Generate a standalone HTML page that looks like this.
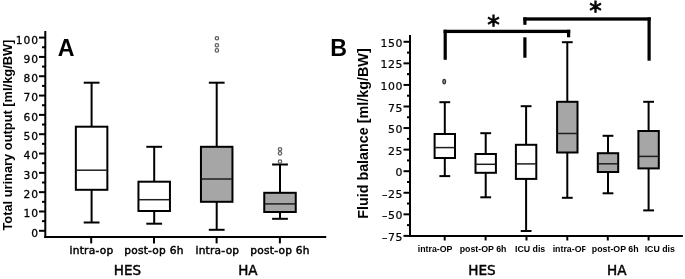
<!DOCTYPE html>
<html><head><meta charset="utf-8"><title>Figure</title>
<style>
html,body{margin:0;padding:0;background:#fff;}
body{width:685px;height:279px;overflow:hidden;}
svg{display:block;}
text{fill:#000;}
.ta{font-family:"DejaVu Sans",sans-serif;font-size:10.7px;letter-spacing:0.9px;text-anchor:end;stroke:#000;stroke-width:0.28px;}
.tb{font-family:"DejaVu Sans",sans-serif;font-size:10.9px;letter-spacing:0.5px;text-anchor:end;stroke:#000;stroke-width:0.2px;}
.xa{font-family:"DejaVu Sans",sans-serif;font-size:10.6px;letter-spacing:0.25px;text-anchor:middle;stroke:#000;stroke-width:0.45px;}
.xb{font-family:"Liberation Sans",sans-serif;font-weight:bold;font-size:8.8px;text-anchor:middle;}
.ga{font-family:"DejaVu Sans",sans-serif;font-size:13.5px;text-anchor:middle;stroke:#000;stroke-width:0.45px;}
.gb{font-family:"DejaVu Sans",sans-serif;font-size:13.6px;text-anchor:middle;stroke:#000;stroke-width:0.45px;}
.pl{font-family:"Liberation Sans",sans-serif;font-weight:bold;font-size:23.2px;}
.yla{font-family:"Liberation Sans",sans-serif;font-weight:bold;font-size:12.85px;text-anchor:middle;}
.ylb{font-family:"Liberation Sans",sans-serif;font-weight:bold;font-size:14.35px;text-anchor:middle;}
.ast{font-family:"DejaVu Sans",sans-serif;font-size:25px;text-anchor:middle;stroke:#000;stroke-width:0.8px;}
</style></head>
<body><svg width="685" height="279" viewBox="0 0 685 279">
<rect width="685" height="279" fill="#fff"/>
<line x1="45.30" y1="31.00" x2="45.30" y2="238.10" stroke="#000" stroke-width="2"/>
<line x1="44.30" y1="237.10" x2="326.20" y2="237.10" stroke="#000" stroke-width="2"/>
<line x1="39.00" y1="230.80" x2="45.30" y2="230.80" stroke="#000" stroke-width="2"/>
<text x="38.9" y="236.70" class="ta">0</text>
<line x1="39.00" y1="211.48" x2="45.30" y2="211.48" stroke="#000" stroke-width="2"/>
<text x="38.9" y="217.38" class="ta">10</text>
<line x1="39.00" y1="192.16" x2="45.30" y2="192.16" stroke="#000" stroke-width="2"/>
<text x="38.9" y="198.06" class="ta">20</text>
<line x1="39.00" y1="172.84" x2="45.30" y2="172.84" stroke="#000" stroke-width="2"/>
<text x="38.9" y="178.74" class="ta">30</text>
<line x1="39.00" y1="153.52" x2="45.30" y2="153.52" stroke="#000" stroke-width="2"/>
<text x="38.9" y="159.42" class="ta">40</text>
<line x1="39.00" y1="134.20" x2="45.30" y2="134.20" stroke="#000" stroke-width="2"/>
<text x="38.9" y="140.10" class="ta">50</text>
<line x1="39.00" y1="114.88" x2="45.30" y2="114.88" stroke="#000" stroke-width="2"/>
<text x="38.9" y="120.78" class="ta">60</text>
<line x1="39.00" y1="95.56" x2="45.30" y2="95.56" stroke="#000" stroke-width="2"/>
<text x="38.9" y="101.46" class="ta">70</text>
<line x1="39.00" y1="76.24" x2="45.30" y2="76.24" stroke="#000" stroke-width="2"/>
<text x="38.9" y="82.14" class="ta">80</text>
<line x1="39.00" y1="56.92" x2="45.30" y2="56.92" stroke="#000" stroke-width="2"/>
<text x="38.9" y="62.82" class="ta">90</text>
<line x1="39.00" y1="37.60" x2="45.30" y2="37.60" stroke="#000" stroke-width="2"/>
<text x="38.9" y="43.50" class="ta">100</text>
<line x1="42.00" y1="221.14" x2="45.30" y2="221.14" stroke="#000" stroke-width="2"/>
<line x1="42.00" y1="201.82" x2="45.30" y2="201.82" stroke="#000" stroke-width="2"/>
<line x1="42.00" y1="182.50" x2="45.30" y2="182.50" stroke="#000" stroke-width="2"/>
<line x1="42.00" y1="163.18" x2="45.30" y2="163.18" stroke="#000" stroke-width="2"/>
<line x1="42.00" y1="143.86" x2="45.30" y2="143.86" stroke="#000" stroke-width="2"/>
<line x1="42.00" y1="124.54" x2="45.30" y2="124.54" stroke="#000" stroke-width="2"/>
<line x1="42.00" y1="105.22" x2="45.30" y2="105.22" stroke="#000" stroke-width="2"/>
<line x1="42.00" y1="85.90" x2="45.30" y2="85.90" stroke="#000" stroke-width="2"/>
<line x1="42.00" y1="66.58" x2="45.30" y2="66.58" stroke="#000" stroke-width="2"/>
<line x1="42.00" y1="47.26" x2="45.30" y2="47.26" stroke="#000" stroke-width="2"/>
<line x1="91.20" y1="237.10" x2="91.20" y2="243.40" stroke="#000" stroke-width="2"/>
<line x1="154.00" y1="237.10" x2="154.00" y2="243.40" stroke="#000" stroke-width="2"/>
<line x1="216.60" y1="237.10" x2="216.60" y2="243.40" stroke="#000" stroke-width="2"/>
<line x1="279.90" y1="237.10" x2="279.90" y2="243.40" stroke="#000" stroke-width="2"/>
<line x1="91.60" y1="82.70" x2="91.60" y2="126.70" stroke="#000" stroke-width="2.0"/>
<line x1="91.60" y1="189.80" x2="91.60" y2="222.50" stroke="#000" stroke-width="2.0"/>
<line x1="83.70" y1="82.70" x2="99.50" y2="82.70" stroke="#000" stroke-width="2.0"/>
<line x1="83.70" y1="222.50" x2="99.50" y2="222.50" stroke="#000" stroke-width="2.0"/>
<rect x="75.85" y="126.70" width="31.50" height="63.10" fill="#fff" stroke="#000" stroke-width="2.0"/>
<line x1="76.35" y1="170.20" x2="106.85" y2="170.20" stroke="#1e1e1e" stroke-width="1.5"/>
<line x1="154.20" y1="146.80" x2="154.20" y2="181.70" stroke="#000" stroke-width="2.0"/>
<line x1="154.20" y1="211.00" x2="154.20" y2="223.70" stroke="#000" stroke-width="2.0"/>
<line x1="146.30" y1="146.80" x2="162.10" y2="146.80" stroke="#000" stroke-width="2.0"/>
<line x1="146.30" y1="223.70" x2="162.10" y2="223.70" stroke="#000" stroke-width="2.0"/>
<rect x="138.45" y="181.70" width="31.50" height="29.30" fill="#fff" stroke="#000" stroke-width="2.0"/>
<line x1="138.95" y1="199.70" x2="169.45" y2="199.70" stroke="#1e1e1e" stroke-width="1.5"/>
<line x1="216.70" y1="82.70" x2="216.70" y2="146.80" stroke="#000" stroke-width="2.0"/>
<line x1="216.70" y1="201.80" x2="216.70" y2="229.80" stroke="#000" stroke-width="2.0"/>
<line x1="208.80" y1="82.70" x2="224.60" y2="82.70" stroke="#000" stroke-width="2.0"/>
<line x1="208.80" y1="229.80" x2="224.60" y2="229.80" stroke="#000" stroke-width="2.0"/>
<rect x="200.95" y="146.80" width="31.50" height="55.00" fill="#a6a6a6" stroke="#000" stroke-width="2.0"/>
<line x1="201.45" y1="179.00" x2="231.95" y2="179.00" stroke="#1e1e1e" stroke-width="1.5"/>
<line x1="280.00" y1="164.50" x2="280.00" y2="192.80" stroke="#000" stroke-width="2.0"/>
<line x1="280.00" y1="212.00" x2="280.00" y2="218.80" stroke="#000" stroke-width="2.0"/>
<line x1="272.10" y1="164.50" x2="287.90" y2="164.50" stroke="#000" stroke-width="2.0"/>
<line x1="272.10" y1="218.80" x2="287.90" y2="218.80" stroke="#000" stroke-width="2.0"/>
<rect x="264.25" y="192.80" width="31.50" height="19.20" fill="#a6a6a6" stroke="#000" stroke-width="2.0"/>
<line x1="264.75" y1="203.90" x2="295.25" y2="203.90" stroke="#1e1e1e" stroke-width="1.5"/>
<circle cx="216.90" cy="38.20" r="1.7" fill="none" stroke="#606060" stroke-width="1.25"/>
<circle cx="216.90" cy="45.20" r="1.7" fill="none" stroke="#606060" stroke-width="1.25"/>
<circle cx="216.90" cy="50.40" r="1.7" fill="none" stroke="#606060" stroke-width="1.25"/>
<circle cx="280.00" cy="149.20" r="1.7" fill="none" stroke="#606060" stroke-width="1.25"/>
<circle cx="280.00" cy="153.30" r="1.7" fill="none" stroke="#606060" stroke-width="1.25"/>
<circle cx="280.00" cy="161.60" r="1.7" fill="none" stroke="#606060" stroke-width="1.25"/>
<text x="91.45" y="254.3" class="xa">intra-op</text>
<text x="153.95" y="254.3" class="xa">post-op 6h</text>
<text x="217.4" y="254.3" class="xa">intra-op</text>
<text x="280" y="254.3" class="xa">post-op 6h</text>
<text x="127.5" y="274.5" class="ga">HES</text>
<text x="247.9" y="274.5" class="ga">HA</text>
<text x="57.8" y="55.7" class="pl">A</text>
<text transform="translate(11.8,135.1) rotate(-90)" class="yla">Total urinary output [ml/kg/BW]</text>
<line x1="410.00" y1="35.00" x2="410.00" y2="236.90" stroke="#000" stroke-width="2"/>
<line x1="409.00" y1="235.90" x2="682.90" y2="235.90" stroke="#000" stroke-width="2"/>
<line x1="403.50" y1="235.90" x2="410.00" y2="235.90" stroke="#000" stroke-width="2"/>
<text x="402.9" y="240.90" class="tb">–75</text>
<line x1="403.50" y1="214.33" x2="410.00" y2="214.33" stroke="#000" stroke-width="2"/>
<text x="402.9" y="219.33" class="tb">–50</text>
<line x1="403.50" y1="192.77" x2="410.00" y2="192.77" stroke="#000" stroke-width="2"/>
<text x="402.9" y="197.77" class="tb">–25</text>
<line x1="403.50" y1="171.20" x2="410.00" y2="171.20" stroke="#000" stroke-width="2"/>
<text x="402.9" y="176.20" class="tb">0</text>
<line x1="403.50" y1="149.63" x2="410.00" y2="149.63" stroke="#000" stroke-width="2"/>
<text x="402.9" y="154.63" class="tb">25</text>
<line x1="403.50" y1="128.06" x2="410.00" y2="128.06" stroke="#000" stroke-width="2"/>
<text x="402.9" y="133.06" class="tb">50</text>
<line x1="403.50" y1="106.50" x2="410.00" y2="106.50" stroke="#000" stroke-width="2"/>
<text x="402.9" y="111.50" class="tb">75</text>
<line x1="403.50" y1="84.93" x2="410.00" y2="84.93" stroke="#000" stroke-width="2"/>
<text x="402.9" y="89.93" class="tb">100</text>
<line x1="403.50" y1="63.36" x2="410.00" y2="63.36" stroke="#000" stroke-width="2"/>
<text x="402.9" y="68.36" class="tb">125</text>
<line x1="403.50" y1="41.79" x2="410.00" y2="41.79" stroke="#000" stroke-width="2"/>
<text x="402.9" y="46.79" class="tb">150</text>
<line x1="407.00" y1="225.12" x2="410.00" y2="225.12" stroke="#000" stroke-width="2"/>
<line x1="407.00" y1="203.55" x2="410.00" y2="203.55" stroke="#000" stroke-width="2"/>
<line x1="407.00" y1="181.98" x2="410.00" y2="181.98" stroke="#000" stroke-width="2"/>
<line x1="407.00" y1="160.42" x2="410.00" y2="160.42" stroke="#000" stroke-width="2"/>
<line x1="407.00" y1="138.85" x2="410.00" y2="138.85" stroke="#000" stroke-width="2"/>
<line x1="407.00" y1="117.28" x2="410.00" y2="117.28" stroke="#000" stroke-width="2"/>
<line x1="407.00" y1="95.71" x2="410.00" y2="95.71" stroke="#000" stroke-width="2"/>
<line x1="407.00" y1="74.15" x2="410.00" y2="74.15" stroke="#000" stroke-width="2"/>
<line x1="407.00" y1="52.58" x2="410.00" y2="52.58" stroke="#000" stroke-width="2"/>
<line x1="444.70" y1="235.90" x2="444.70" y2="240.50" stroke="#000" stroke-width="2"/>
<line x1="485.60" y1="235.90" x2="485.60" y2="240.50" stroke="#000" stroke-width="2"/>
<line x1="526.50" y1="235.90" x2="526.50" y2="240.50" stroke="#000" stroke-width="2"/>
<line x1="567.30" y1="235.90" x2="567.30" y2="240.50" stroke="#000" stroke-width="2"/>
<line x1="607.80" y1="235.90" x2="607.80" y2="240.50" stroke="#000" stroke-width="2"/>
<line x1="648.60" y1="235.90" x2="648.60" y2="240.50" stroke="#000" stroke-width="2"/>
<line x1="444.80" y1="102.20" x2="444.80" y2="134.00" stroke="#000" stroke-width="2.0"/>
<line x1="444.80" y1="158.00" x2="444.80" y2="176.10" stroke="#000" stroke-width="2.0"/>
<line x1="439.40" y1="102.20" x2="450.20" y2="102.20" stroke="#000" stroke-width="2.0"/>
<line x1="439.40" y1="176.10" x2="450.20" y2="176.10" stroke="#000" stroke-width="2.0"/>
<rect x="434.60" y="134.00" width="20.40" height="24.00" fill="#fff" stroke="#000" stroke-width="2.0"/>
<line x1="435.10" y1="147.60" x2="454.50" y2="147.60" stroke="#1e1e1e" stroke-width="1.5"/>
<line x1="485.70" y1="133.20" x2="485.70" y2="154.00" stroke="#000" stroke-width="2.0"/>
<line x1="485.70" y1="172.80" x2="485.70" y2="197.30" stroke="#000" stroke-width="2.0"/>
<line x1="480.30" y1="133.20" x2="491.10" y2="133.20" stroke="#000" stroke-width="2.0"/>
<line x1="480.30" y1="197.30" x2="491.10" y2="197.30" stroke="#000" stroke-width="2.0"/>
<rect x="475.50" y="154.00" width="20.40" height="18.80" fill="#fff" stroke="#000" stroke-width="2.0"/>
<line x1="476.00" y1="164.30" x2="495.40" y2="164.30" stroke="#1e1e1e" stroke-width="1.5"/>
<line x1="526.10" y1="106.20" x2="526.10" y2="144.80" stroke="#000" stroke-width="2.0"/>
<line x1="526.10" y1="178.90" x2="526.10" y2="231.00" stroke="#000" stroke-width="2.0"/>
<line x1="520.70" y1="106.20" x2="531.50" y2="106.20" stroke="#000" stroke-width="2.0"/>
<line x1="520.70" y1="231.00" x2="531.50" y2="231.00" stroke="#000" stroke-width="2.0"/>
<rect x="515.90" y="144.80" width="20.40" height="34.10" fill="#fff" stroke="#000" stroke-width="2.0"/>
<line x1="516.40" y1="163.90" x2="535.80" y2="163.90" stroke="#1e1e1e" stroke-width="1.5"/>
<line x1="567.30" y1="42.20" x2="567.30" y2="101.80" stroke="#000" stroke-width="2.0"/>
<line x1="567.30" y1="152.50" x2="567.30" y2="197.80" stroke="#000" stroke-width="2.0"/>
<line x1="561.90" y1="42.20" x2="572.70" y2="42.20" stroke="#000" stroke-width="2.0"/>
<line x1="561.90" y1="197.80" x2="572.70" y2="197.80" stroke="#000" stroke-width="2.0"/>
<rect x="557.10" y="101.80" width="20.40" height="50.70" fill="#a6a6a6" stroke="#000" stroke-width="2.0"/>
<line x1="557.60" y1="133.50" x2="577.00" y2="133.50" stroke="#1e1e1e" stroke-width="1.5"/>
<line x1="608.00" y1="135.80" x2="608.00" y2="153.20" stroke="#000" stroke-width="2.0"/>
<line x1="608.00" y1="172.00" x2="608.00" y2="193.30" stroke="#000" stroke-width="2.0"/>
<line x1="602.60" y1="135.80" x2="613.40" y2="135.80" stroke="#000" stroke-width="2.0"/>
<line x1="602.60" y1="193.30" x2="613.40" y2="193.30" stroke="#000" stroke-width="2.0"/>
<rect x="597.80" y="153.20" width="20.40" height="18.80" fill="#a6a6a6" stroke="#000" stroke-width="2.0"/>
<line x1="598.30" y1="163.80" x2="617.70" y2="163.80" stroke="#1e1e1e" stroke-width="1.5"/>
<line x1="648.60" y1="101.80" x2="648.60" y2="131.00" stroke="#000" stroke-width="2.0"/>
<line x1="648.60" y1="168.40" x2="648.60" y2="210.40" stroke="#000" stroke-width="2.0"/>
<line x1="643.20" y1="101.80" x2="654.00" y2="101.80" stroke="#000" stroke-width="2.0"/>
<line x1="643.20" y1="210.40" x2="654.00" y2="210.40" stroke="#000" stroke-width="2.0"/>
<rect x="638.40" y="131.00" width="20.40" height="37.40" fill="#a6a6a6" stroke="#000" stroke-width="2.0"/>
<line x1="638.90" y1="156.40" x2="658.30" y2="156.40" stroke="#1e1e1e" stroke-width="1.5"/>
<ellipse cx="444.2" cy="81.6" rx="1.35" ry="2.3" fill="#9a9a9a" stroke="#3c3c3c" stroke-width="1.3"/>
<rect x="443.60" y="29.75" width="126.60" height="3.30" fill="#000"/>
<rect x="443.60" y="29.75" width="3.20" height="30.05" fill="#000"/>
<rect x="567.00" y="29.75" width="3.20" height="7.55" fill="#000"/>
<rect x="523.30" y="17.35" width="127.40" height="3.30" fill="#000"/>
<rect x="523.30" y="17.35" width="3.20" height="7.45" fill="#000"/>
<rect x="523.30" y="37.30" width="3.20" height="20.40" fill="#000"/>
<rect x="647.50" y="17.35" width="3.20" height="43.35" fill="#000"/>
<text x="493.5" y="33.0" class="ast">*</text>
<text x="595.5" y="19.4" class="ast">*</text>
<clipPath id="cp4"><rect x="540" y="240" width="45.4" height="20"/></clipPath>
<text x="435.1" y="252.4" class="xb">intra-OP</text>
<text x="483.1" y="252.4" class="xb">post-OP 6h</text>
<text x="530.1" y="252.4" class="xb">ICU dis</text>
<text x="570.0" y="252.4" class="xb" clip-path="url(#cp4)">intra-OP</text>
<text x="615.2" y="252.4" class="xb">post-OP 6h</text>
<text x="659.8" y="252.4" class="xb">ICU dis</text>
<text x="482" y="274.7" class="gb">HES</text>
<text x="616.7" y="274.7" class="gb">HA</text>
<text x="330.3" y="55.6" class="pl">B</text>
<text transform="translate(368,133.6) rotate(-90)" class="ylb">Fluid balance [ml/kg/BW]</text>
</svg></body></html>
